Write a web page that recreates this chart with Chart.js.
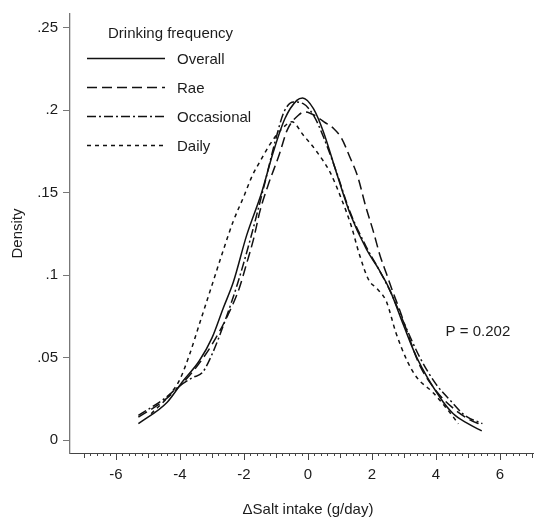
<!DOCTYPE html>
<html>
<head>
<meta charset="utf-8">
<script src="https://cdn.jsdelivr.net/npm/chart.js@4"></script>
<style>
body { margin: 0; background: #fff; }
</style>
</head>
<body>
<canvas id="c" width="539" height="525"></canvas>
<script>

// series (x in g/day, y = density)
const overallX = [-5.3, -4.4, -3.9, -3.4, -3.0, -2.65, -2.33, -1.92, -1.45, -1.08, -0.72, -0.35, -0.17, 0.17, 0.48, 0.9, 1.31, 1.83, 2.2, 2.56, 2.98, 3.4, 4.12, 4.54, 5.0, 5.43]
const overallY = [0.010, 0.023, 0.036, 0.048, 0.062, 0.080, 0.096, 0.124, 0.150, 0.175, 0.195, 0.206, 0.2075, 0.201, 0.187, 0.1615, 0.1376, 0.1156, 0.104, 0.091, 0.070, 0.050, 0.026, 0.016, 0.010, 0.0056]

const raeX = [-5.3, -4.5, -4.0, -3.5, -3.0, -2.5, -2.15, -1.92, -1.7, -1.5, -1.24, -0.9, -0.65, -0.3, -0.1, 0.2, 0.5, 0.8, 1.05, 1.3, 1.55, 1.8, 2.05, 2.25, 2.45, 2.65, 2.9, 3.2, 3.5, 4.0, 4.5, 5.0, 5.45]
const raeY = [0.014, 0.024, 0.033, 0.044, 0.058, 0.076, 0.092, 0.107, 0.122, 0.139, 0.155, 0.173, 0.188, 0.197, 0.199, 0.197, 0.193, 0.189, 0.183, 0.172, 0.160, 0.142, 0.126, 0.112, 0.101, 0.090, 0.077, 0.060, 0.045, 0.030, 0.020, 0.013, 0.009]

const occX = [-5.3, -4.5, -4.0, -3.6, -3.3, -3.0, -2.6, -2.2, -1.8, -1.4, -1.0, -0.75, -0.45, -0.15, 0.2, 0.5, 0.9, 1.3, 1.8, 2.2, 2.6, 3.0, 3.5, 4.0, 4.5, 4.9, 5.45]
const occY = [0.015, 0.025, 0.033, 0.038, 0.041, 0.052, 0.072, 0.095, 0.122, 0.152, 0.183, 0.199, 0.205, 0.204, 0.196, 0.183, 0.162, 0.139, 0.118, 0.104, 0.089, 0.071, 0.050, 0.034, 0.023, 0.015, 0.010]

const dailyX = [-4.9, -4.3, -4.0, -3.7, -3.4, -3.0, -2.65, -2.33, -2.0, -1.75, -1.5, -1.2, -0.85, -0.5, -0.15, 0.27, 0.7, 1.05, 1.35, 1.6, 1.9, 2.15, 2.45, 2.75, 3.1, 3.4, 3.9, 4.3, 4.7]
const dailyY = [0.016, 0.028, 0.037, 0.052, 0.070, 0.094, 0.115, 0.133, 0.148, 0.160, 0.169, 0.179, 0.188, 0.193, 0.185, 0.175, 0.162, 0.146, 0.130, 0.113, 0.097, 0.092, 0.084, 0.065, 0.048, 0.038, 0.029, 0.020, 0.010]

const seriesNames = ['Overall', 'Rae', 'Occasional', 'Daily']
const xTicks = [-6, -4, -2, 0, 2, 4, 6]
const yTicks = [0, 0.05, 0.1, 0.15, 0.2, 0.25]
const yTickLabels = ['0', '.05', '.1', '.15', '.2', '.25']
const legendTitle = 'Drinking frequency'
const xTitle = '\u0394Salt intake (g/day)'
const yTitle = 'Density'
const pText = 'P = 0.202'
const pAt = [4.3, 0.0658]

const FONT = '"Liberation Sans", Arial, Helvetica, sans-serif'
const INK = '#1c1c1c'

function pts(xs, ys) {
    return xs.map((x, i) => ({ x: x, y: ys[i] }))
}

function line(label, xs, ys, dash) {
    return {
        label: label,
        data: pts(xs, ys),
        borderColor: '#111',
        borderWidth: 1.5,
        borderDash: dash,
        pointRadius: 0,
        fill: false,
        cubicInterpolationMode: 'monotone'
    }
}

// minor x ticks, inside legend, P value and x title
const extras = {
    id: 'extras',
    afterDraw(chart) {
        const ctx = chart.ctx
        const xs = chart.scales.x, ys = chart.scales.y
        ctx.save()
        ctx.strokeStyle = '#444'
        ctx.lineWidth = 1
        for (let i = -35; i <= 35; i++) {
            if (i % 10 === 0) continue
            const px = Math.round(xs.getPixelForValue(i / 5)) + 0.5
            const len = (i % 5 === 0) ? 5 : 3
            ctx.beginPath()
            ctx.moveTo(px, ys.bottom)
            ctx.lineTo(px, ys.bottom + len)
            ctx.stroke()
        }

        ctx.font = '15px ' + FONT
        ctx.fillStyle = INK
        ctx.textBaseline = 'middle'
        ctx.textAlign = 'left'
        ctx.fillText(legendTitle, 108, 34)
        chart.data.datasets.forEach((ds, i) => {
            const y = 58.5 + i * 29
            ctx.setLineDash(ds.borderDash || [])
            ctx.lineWidth = ds.borderWidth
            ctx.strokeStyle = ds.borderColor
            ctx.beginPath()
            ctx.moveTo(87, y)
            ctx.lineTo(165, y)
            ctx.stroke()
            ctx.setLineDash([])
            ctx.fillText(ds.label, 177, y + 1)
        })

        ctx.fillText(pText, xs.getPixelForValue(pAt[0]), ys.getPixelForValue(pAt[1]))

        ctx.textAlign = 'center'
        ctx.fillText(xTitle, xs.getPixelForValue(0), 510)
        ctx.restore()
    }
}

Chart.defaults.font.family = FONT
Chart.defaults.font.size = 15
Chart.defaults.color = INK

new Chart(document.getElementById('c'), {
    type: 'line',
    data: {
        datasets: [
            line(seriesNames[0], overallX, overallY, []),
            line(seriesNames[1], raeX, raeY, [10, 5]),
            line(seriesNames[2], occX, occY, [9, 3, 2, 3]),
            line(seriesNames[3], dailyX, dailyY, [4, 4])
        ]
    },
    options: {
        responsive: false,
        animation: false,
        devicePixelRatio: 1,
        layout: { padding: { left: 0, right: 6, top: 8, bottom: 0 } },
        plugins: { legend: { display: false }, tooltip: { enabled: false } },
        scales: {
            x: {
                type: 'linear',
                min: -7.4375,
                max: 7.03125,
                afterBuildTicks: s => { s.ticks = xTicks.map(v => ({ value: v })) },
                afterFit: s => { s.height = 72 },
                ticks: { padding: 6, maxRotation: 0, autoSkip: false, callback: v => String(v) },
                grid: { drawOnChartArea: false, tickLength: 7, tickColor: '#444' },
                border: { color: '#444', width: 1 }
            },
            y: {
                type: 'linear',
                min: -0.00778,
                max: 0.25837,
                afterBuildTicks: s => { s.ticks = yTicks.map(v => ({ value: v })) },
                afterFit: s => { s.width = 70 },
                ticks: { padding: 5, autoSkip: false, callback: (v, i) => yTickLabels[i] },
                grid: { drawOnChartArea: false, tickLength: 7, tickColor: '#777' },
                border: { color: '#777', width: 1.3 },
                title: { display: true, text: yTitle, padding: { top: 9, bottom: 0 } }
            }
        }
    },
    plugins: [extras]
})
</script>
</body>
</html>
